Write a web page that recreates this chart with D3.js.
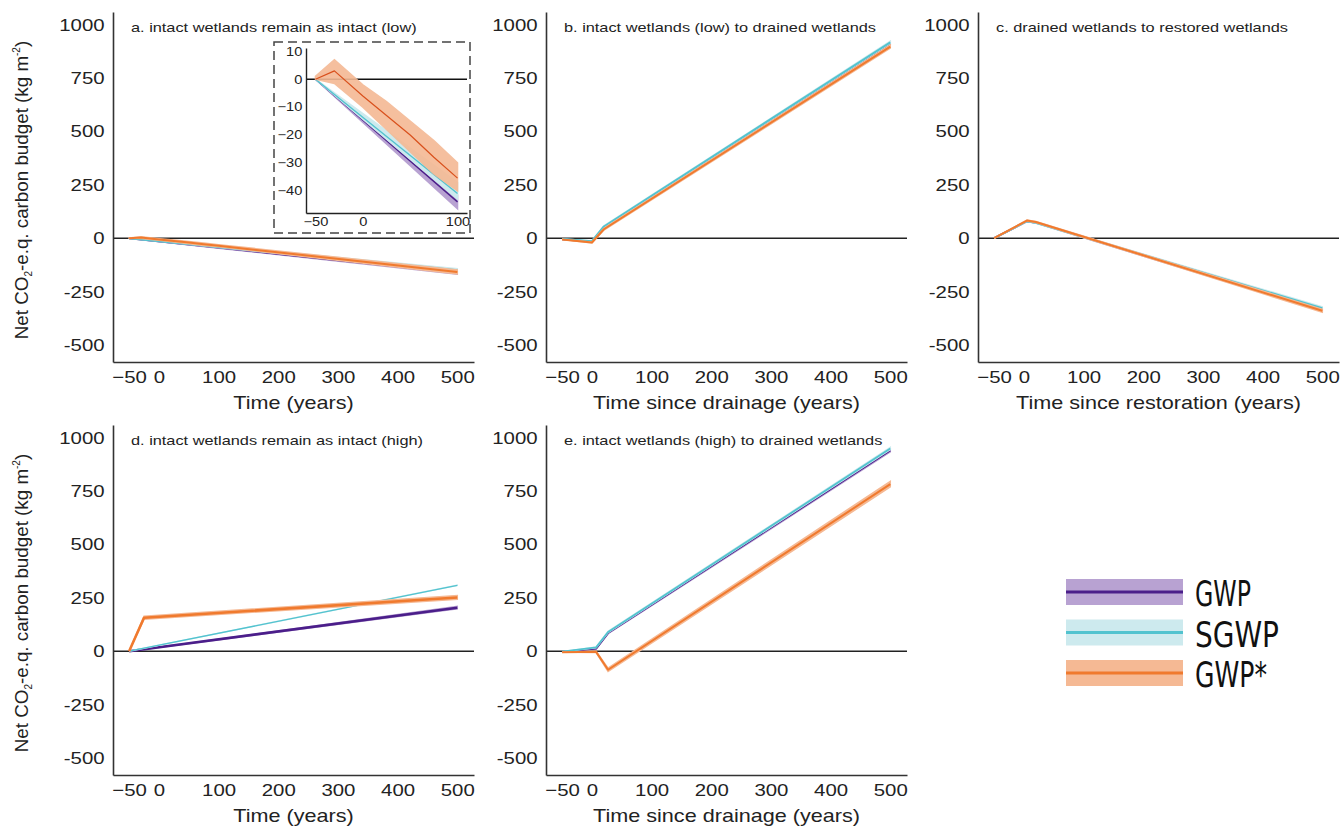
<!DOCTYPE html>
<html>
<head>
<meta charset="utf-8">
<script src="https://cdn.jsdelivr.net/npm/d3@7"></script>
<style>
  body { margin: 0; background: #fff; }
  svg { font-family: "Liberation Sans", Arial, sans-serif; }
</style>
</head>
<body>
<div id="chart"></div>
<script>
const WIDTH = 1340;
const HEIGHT = 827;

const X_TICKS = [-50, 0, 100, 200, 300, 400, 500];
const Y_TICKS = [-500, -250, 0, 250, 500, 750, 1000];
const INSET_X_TICKS = [-50, 0, 100];
const INSET_Y_TICKS = [10, 0, -10, -20, -30, -40];

const PANEL_TITLES = [
  "a. intact wetlands remain as intact (low)",
  "b. intact wetlands (low) to drained wetlands",
  "c. drained wetlands to restored wetlands",
  "d. intact wetlands remain as intact (high)",
  "e. intact wetlands (high) to drained wetlands",
];
const X_LABELS = [
  "Time (years)",
  "Time since drainage (years)",
  "Time since restoration (years)",
  "Time (years)",
  "Time since drainage (years)",
];
const METRICS = ["GWP", "SGWP", "GWP*"];

// rows: [time, value, lower, upper]
const A_GWP = [[-50, 0, 0, 0], [100, -44, -46.5, -41.5], [500, -162, -169, -155]];
const A_SGWP = [[-50, 0, 0, 0], [100, -41, -43, -37], [500, -150, -157, -143]];
const A_GWPS = [
  [-50, 0, 0, 1], [-30, 3, -1.5, 7], [0, -6, -10, -2], [25, -13, -18, -8],
  [50, -20, -26, -15], [75, -28, -34, -22], [100, -35.5, -40, -30], [500, -158, -167, -149],
];

const B_GWP = [[-50, -5, -5, -5], [0, -17, -19, -15], [20, 50, 46, 54], [500, 912, 906, 918]];
const B_SGWP = [[-50, -4, -4, -4], [0, -14, -16, -12], [20, 55, 52, 58], [500, 918, 913, 923]];
const B_GWPS = [[-50, -6, -6, -6], [0, -20, -22, -18], [20, 42, 38, 46], [500, 898, 891, 905]];

const C_GWP = [[-50, 0, 0, 0], [5, 80, 78, 82], [20, 73, 71, 75], [500, -335, -342, -328]];
const C_SGWP = [[-50, 0, 0, 0], [5, 80, 78, 82], [20, 72, 70, 74], [500, -328, -335, -321]];
const C_GWPS = [[-50, 0, 0, 0], [5, 83, 81, 85], [20, 76, 74, 78], [500, -340, -347, -333]];

const D_GWP = [[-50, 0, 0, 0], [500, 204, 198, 210]];
const D_SGWP = [[-50, 0, 0, 0], [500, 309, 308, 310]];
const D_GWPS = [[-50, 0, 0, 0], [-25, 157, 150, 164], [500, 252, 243, 261]];

const E_GWP = [[-50, -3, -3, -3], [7, 12, 10, 14], [27, 85, 82, 88], [500, 940, 934, 946]];
const E_SGWP = [[-50, -2, -2, -2], [7, 18, 16, 20], [27, 90, 87, 93], [500, 950, 945, 955]];
const E_GWPS = [[-50, -5, -5, -5], [7, -3, -6, 0], [27, -87, -95, -79], [500, 783, 770, 796]];

const COLORS = {
  GWP: { line: "#4b1e8a", band: "#b8a2d2" },
  SGWP: { line: "#52c3cf", band: "#cdeaee" },
  "GWP*": { line: "#f07a2e", band: "#f5b994" },
};

const PANEL_DATA = [
  [A_GWP, A_SGWP, A_GWPS],
  [B_GWP, B_SGWP, B_GWPS],
  [C_GWP, C_SGWP, C_GWPS],
  [D_GWP, D_SGWP, D_GWPS],
  [E_GWP, E_SGWP, E_GWPS],
];
const LINE_WIDTHS = [
  [2, 2, 2], [2, 2, 2], [2, 2, 2], [2.6, 1.3, 2.6], [1.8, 1.8, 2],
];

const PANEL_W = 361;
const PANEL_H = 350;
const PANEL_POS = [
  [113, 12], [546, 12], [978, 12], [113, 425], [546, 425],
];
const STRETCH = 1.2; // the reference text is drawn wider than it is tall

const svg = d3.select("#chart").append("svg")
  .attr("width", WIDTH).attr("height", HEIGHT);

const X_SCALE = d3.scaleLinear().domain([-77, 528]).range([0, PANEL_W]);
const Y_SCALE = d3.scaleLinear().domain([-580, 1060]).range([PANEL_H, 0]);
const minusFmt = (d) => (d < 0 ? "\u2212" + Math.abs(d) : String(d));

function styleAxis(a, size) {
  a.select(".domain").attr("stroke", "#333").attr("stroke-width", 1.6);
  a.selectAll("text").attr("font-size", size + "px").attr("fill", "#222")
    .attr("font-family", "Liberation Sans, Arial, sans-serif")
    .attr("transform", `scale(${STRETCH},1)`);
}

function wideText(parent, x, y, size, anchor, str) {
  return parent.append("text")
    .attr("transform", `translate(${x},${y}) scale(${STRETCH},1)`)
    .attr("text-anchor", anchor)
    .attr("font-size", size + "px").attr("fill", "#222")
    .text(str);
}

function drawSeries(g, rows, metric, xs, ys, lw, bandOpacity) {
  const area = d3.area()
    .x((d) => xs(d[0])).y0((d) => ys(d[2])).y1((d) => ys(d[3]));
  const line = d3.line().x((d) => xs(d[0])).y((d) => ys(d[1]));
  g.append("path").attr("d", area(rows))
    .attr("fill", COLORS[metric].band).attr("opacity", bandOpacity)
    .attr("stroke", COLORS[metric].band).attr("stroke-width", 1.5);
  return g.append("path").attr("d", line(rows))
    .attr("fill", "none").attr("stroke", COLORS[metric].line)
    .attr("stroke-width", lw).attr("stroke-linejoin", "round");
}

PANEL_DATA.forEach((series, i) => {
  const [px, py] = PANEL_POS[i];
  const g = svg.append("g").attr("transform", `translate(${px},${py})`);

  // zero line
  g.append("line")
    .attr("x1", 0).attr("x2", PANEL_W)
    .attr("y1", Y_SCALE(0)).attr("y2", Y_SCALE(0))
    .attr("stroke", "#222").attr("stroke-width", 1.4);

  [0, 1, 2].forEach((k) => {
    drawSeries(g, series[k], METRICS[k], X_SCALE, Y_SCALE, LINE_WIDTHS[i][k], 1);
  });

  // axes
  const xAxis = g.append("g").attr("transform", `translate(0,${PANEL_H})`)
    .call(d3.axisBottom(X_SCALE).tickValues(X_TICKS).tickSize(0).tickPadding(9)
      .tickFormat(minusFmt));
  const yAxis = g.append("g")
    .call(d3.axisLeft(Y_SCALE).tickValues(Y_TICKS).tickSize(0).tickPadding(7)
      .tickFormat((d) => String(d)));
  styleAxis(xAxis, 17);
  styleAxis(yAxis, 17);

  wideText(g, 18, 20, 13.6, "start", PANEL_TITLES[i]);
  wideText(g, PANEL_W / 2, PANEL_H + 47, 18, "middle", X_LABELS[i]);

  if (i === 0 || i === 3) {
    const lab = svg.append("text")
      .attr("transform", `translate(${28},${py + 178}) rotate(-90)`)
      .attr("text-anchor", "middle")
      .attr("font-size", "18.8px").attr("fill", "#222");
    lab.append("tspan").text("Net CO");
    lab.append("tspan").attr("font-size", "10px").attr("dy", 4).text("2");
    lab.append("tspan").attr("dy", -4).text("-e.q. carbon budget (kg m");
    lab.append("tspan").attr("font-size", "10px").attr("dy", -8).text("-2");
    lab.append("tspan").attr("dy", 8).text(")");
  }
});

// inset of panel a
const INSET_X = d3.scaleLinear().domain([-60, 110]).range([306, 467]);
const INSET_Y = d3.scaleLinear().domain([-48, 11.2]).range([213, 48]);
const inset = svg.append("g");
inset.append("rect")
  .attr("x", 274).attr("y", 42).attr("width", 196).attr("height", 191)
  .attr("fill", "#fff").attr("stroke", "#444").attr("stroke-width", 1.5)
  .attr("stroke-dasharray", "9,5");
inset.append("line")
  .attr("x1", INSET_X(-60)).attr("x2", INSET_X(110))
  .attr("y1", INSET_Y(0)).attr("y2", INSET_Y(0))
  .attr("stroke", "#111").attr("stroke-width", 1.4);
[A_GWP, A_SGWP, A_GWPS].forEach((rows, k) => {
  const clip = rows.filter((d) => d[0] <= 100);
  const ln = drawSeries(inset, clip, METRICS[k], INSET_X, INSET_Y, k === 2 ? 1.2 : 1.4, k === 2 ? 0.9 : 1);
  if (k === 2) ln.attr("stroke", "#d9501c");
});
const ixAxis = inset.append("g").attr("transform", `translate(0,${INSET_Y(-48)})`)
  .call(d3.axisBottom(INSET_X).tickValues(INSET_X_TICKS).tickSize(0).tickPadding(4)
    .tickFormat(minusFmt));
const iyAxis = inset.append("g").attr("transform", `translate(${INSET_X(-60)},0)`)
  .call(d3.axisLeft(INSET_Y).tickValues(INSET_Y_TICKS).tickSize(0).tickPadding(3)
    .tickFormat(minusFmt));
styleAxis(ixAxis, 12.2);
styleAxis(iyAxis, 12.2);
ixAxis.select(".domain").attr("stroke", "#222").attr("stroke-width", 1.4);
iyAxis.select(".domain").attr("stroke", "#222").attr("stroke-width", 1.4);

// legend
const LEGEND_WIDTHS = [56, 84, 72];
const legend = svg.append("g").attr("transform", "translate(1066,579)");
METRICS.forEach((m, k) => {
  const y = k * 40.5;
  legend.append("rect").attr("x", 0).attr("y", y).attr("width", 117).attr("height", 26)
    .attr("fill", COLORS[m].band);
  legend.append("line").attr("x1", 0).attr("x2", 117).attr("y1", y + 13).attr("y2", y + 13)
    .attr("stroke", COLORS[m].line).attr("stroke-width", 3);
  legend.append("text").attr("x", 129).attr("y", y + 27)
    .attr("font-family", "Liberation Sans Narrow, DejaVu Sans Condensed, Arial, sans-serif")
    .attr("font-size", "35px").attr("fill", "#111")
    .attr("textLength", LEGEND_WIDTHS[k]).attr("lengthAdjust", "spacingAndGlyphs")
    .text(m);
});
</script>
</body>
</html>
